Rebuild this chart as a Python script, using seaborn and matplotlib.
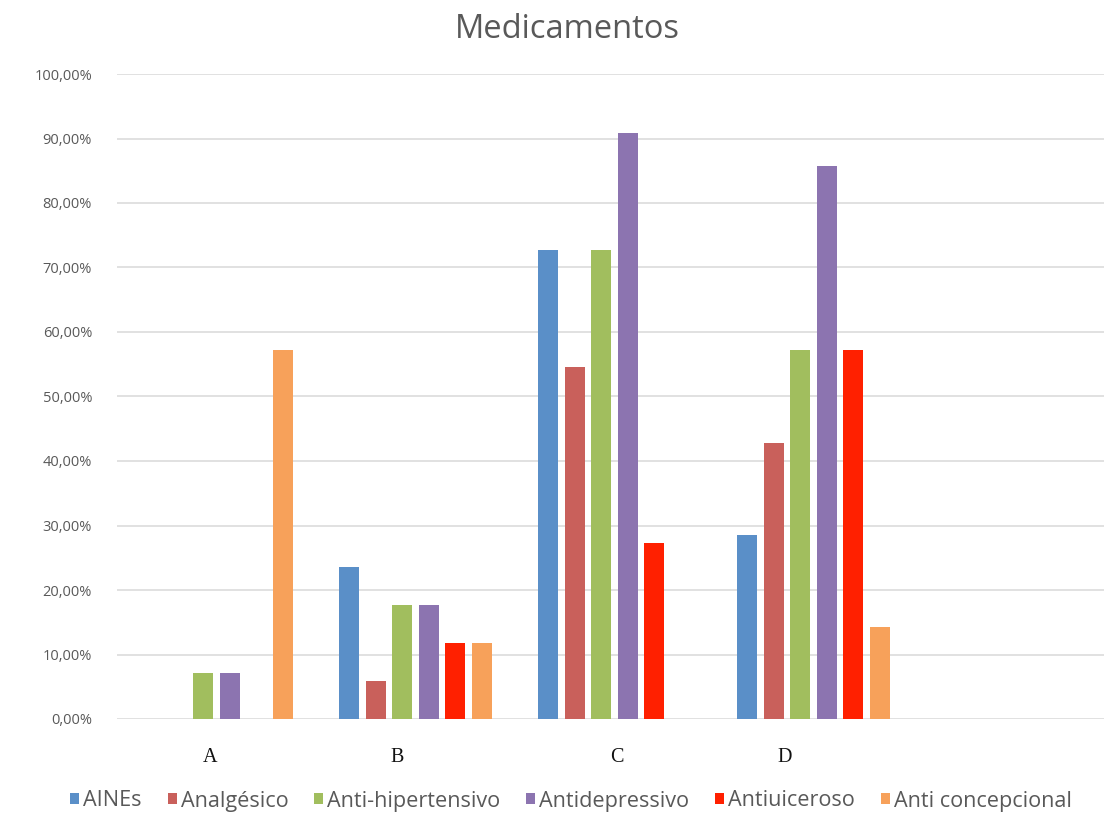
import matplotlib
matplotlib.use("Agg")
import matplotlib.pyplot as plt
from matplotlib.ticker import FuncFormatter, MultipleLocator
import seaborn as sns
import pandas as pd

# Groups on the x axis (the last slot is left empty)
groups = ["A", "B", "C", "D", "E"]
group_labels = ["A", "B", "C", "D"]

# Drug classes (series)
medicamentos = ["AINEs", "Analgésico", "Anti-hipertensivo",
                "Antidepressivo", "Antiuiceroso", "Anti concepcional"]

# Share of each drug class per group (fractions)
aines = [0.0, 0.2353, 0.7273, 0.2857]
analgesico = [0.0, 0.0588, 0.5455, 0.4286]
anti_hipertensivo = [0.0714, 0.1765, 0.7273, 0.5714]
antidepressivo = [0.0714, 0.1765, 0.9091, 0.8571]
antiulceroso = [0.0, 0.1176, 0.2727, 0.5714]
anti_concepcional = [0.5714, 0.1176, 0.0, 0.1429]

colors = ["#5A8FC8", "#C9605B", "#A1BE5E", "#8C74B0", "#FF2000", "#F7A15A"]

series = [aines, analgesico, anti_hipertensivo, antidepressivo,
          antiulceroso, anti_concepcional]
rows = []
for med, vals in zip(medicamentos, series):
    for g, v in zip(group_labels, vals):
        rows.append({"grupo": g, "medicamento": med, "valor": v})
df = pd.DataFrame(rows)

sns.set_theme(style="white")
plt.rcParams["font.family"] = ["Open Sans", "DejaVu Sans"]

fig = plt.figure(figsize=(11.04, 8.15), dpi=100)
ax = fig.add_axes([117 / 1104, 1 - 719 / 815, 1 - 117 / 1104, (719 - 74) / 815])

sns.barplot(data=df, x="grupo", y="valor", hue="medicamento",
            order=groups, hue_order=medicamentos, palette=colors,
            saturation=1, errorbar=None, width=0.8, gap=0.25, linewidth=0,
            ax=ax, legend=True, zorder=3)

ax.set_ylim(0, 1.0)
ax.set_xlim(-0.5, 4.46)
ax.yaxis.set_major_locator(MultipleLocator(0.1))
ax.yaxis.set_major_formatter(
    FuncFormatter(lambda v, _: f"{v * 100:.2f}%".replace(".", ",")))
ax.grid(axis="y", color="#D9D9D9", linewidth=1.1, zorder=0)
ax.grid(axis="x", visible=False)
for s in ax.spines.values():
    s.set_visible(False)
ax.tick_params(axis="y", length=0, pad=18, labelsize=10.5, labelcolor="#595959")
ax.set_xlabel("")
ax.set_ylabel("")

# Group labels set in a serif face, slightly offset from the bar groups
label_pos = [-0.033, 0.907, 2.013, 2.857]
ax.set_xticks(label_pos)
ax.set_xticklabels(group_labels, fontfamily="Liberation Serif", fontsize=14.5,
                   color="#111111")
ax.tick_params(axis="x", length=0, pad=21)

fig.text(567 / 1104, 1 - 38 / 815, "Medicamentos", fontsize=23.5,
         color="#595959", ha="center", va="baseline")

handles, labels = ax.get_legend_handles_labels()
ax.get_legend().remove()
fig.legend(handles, labels, loc="center", bbox_to_anchor=(571 / 1104, 1 - 801 / 815),
           ncol=6, frameon=False, fontsize=15.6, handlelength=0.42,
           handleheight=0.42, handletextpad=0.18, columnspacing=1.2,
           labelcolor="#595959")

fig.savefig("out.png", dpi=100)
